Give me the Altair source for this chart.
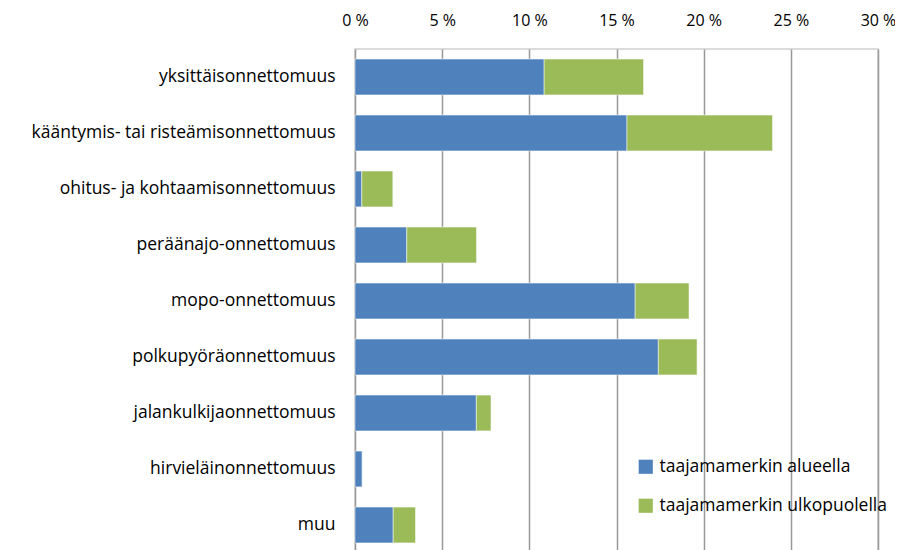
import altair as alt
import pandas as pd

categories = [
    "yksittäisonnettomuus",
    "kääntymis- tai risteämisonnettomuus",
    "ohitus- ja kohtaamisonnettomuus",
    "peräänajo-onnettomuus",
    "mopo-onnettomuus",
    "polkupyöräonnettomuus",
    "jalankulkijaonnettomuus",
    "hirvieläinonnettomuus",
    "muu",
]
series = ["taajamamerkin alueella", "taajamamerkin ulkopuolella"]
inside = [10.85, 15.6, 0.39, 2.97, 16.07, 17.4, 6.96, 0.42, 2.19]
outside = [5.7, 8.35, 1.78, 4.0, 3.09, 2.22, 0.84, 0.0, 1.28]
ticks = [0, 5, 10, 15, 20, 25, 30]
colors = ["#4f81bd", "#9bbb59"]

rows = []
for c, a, b in zip(categories, inside, outside):
    rows.append({"cat": c, "series": series[0], "value": a, "ord": 0})
    rows.append({"cat": c, "series": series[1], "value": b, "ord": 1})
df = pd.DataFrame(rows)

FONT = "Open Sans"
FS = 17.5

chart = (
    alt.Chart(df)
    .mark_bar(stroke="white", strokeWidth=0.5)
    .encode(
        y=alt.Y(
            "cat:N",
            sort=categories,
            title=None,
            scale=alt.Scale(paddingInner=0.36, paddingOuter=0.18),
            axis=alt.Axis(
                ticks=False,
                domain=False,
                labelFontSize=FS,
                labelFont=FONT,
                labelColor="#000000",
                labelPadding=20,
                labelLimit=400,
            ),
        ),
        x=alt.X(
            "value:Q",
            stack="zero",
            title=None,
            scale=alt.Scale(domain=[0, 30], nice=False),
            axis=alt.Axis(
                orient="top",
                values=ticks,
                labelExpr="datum.value + ' %'",
                labelFlush=False,
                labelOverlap=False,
                ticks=False,
                domain=False,
                grid=True,
                gridColor="#999999",
                gridWidth=1.5,
                labelFontSize=16,
                labelFont=FONT,
                labelColor="#000000",
                labelPadding=21,
            ),
        ),
        color=alt.Color(
            "series:N",
            scale=alt.Scale(domain=series, range=colors),
            legend=alt.Legend(
                title=None,
                orient="none",
                legendX=282,
                legendY=409,
                symbolType="square",
                symbolSize=200,
                symbolStrokeWidth=0,
                labelFontSize=FS,
                labelFont=FONT,
                labelColor="#000000",
                labelLimit=400,
                rowPadding=20,
                labelOffset=5,
            ),
        ),
        order=alt.Order("ord:Q"),
    )
    .properties(
        width=523,
        height=504,
        autosize=alt.AutoSizeParams(type="none"),
        padding={"left": 347, "top": 41, "right": 17, "bottom": 0},
    )
    .configure_view(stroke="#d0d0d0", strokeWidth=1.5)
)

chart.save("out.html", embed_options={"renderer": "svg", "actions": False})
